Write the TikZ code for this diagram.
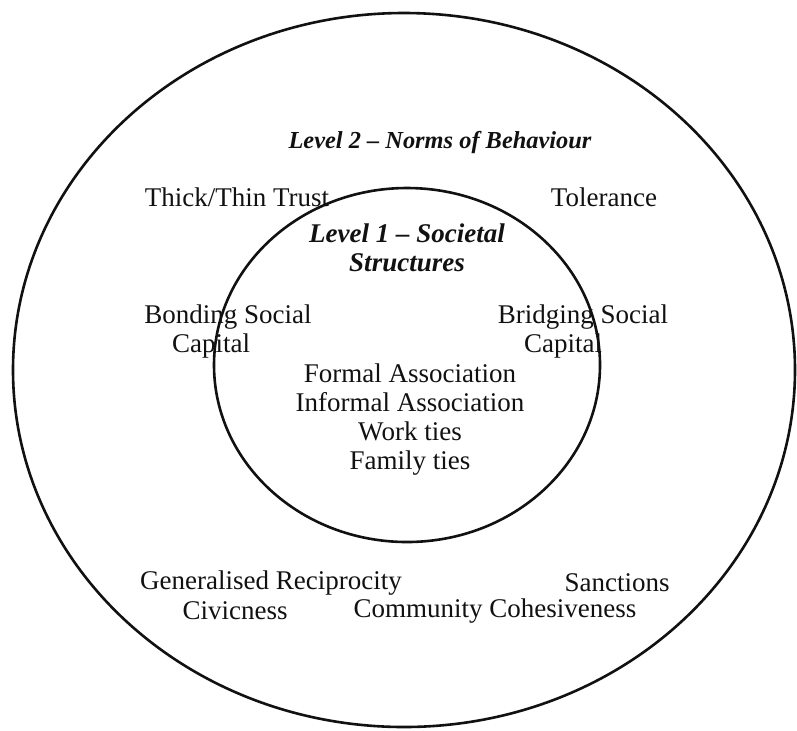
\documentclass[tikz,border=0pt]{standalone}
\usepackage{fontspec}
\setmainfont{Liberation Serif}
\usetikzlibrary{positioning,shapes.geometric}
\definecolor{inkBlack}{HTML}{111111}

\begin{document}
\begin{tikzpicture}[x=0.5pt, y=-0.5pt,
  ring/.style={ellipse, draw=inkBlack, line width=1.3pt, inner sep=0pt},
  item/.style={font=\fontsize{13.5}{14.5}\selectfont, align=center, inner sep=0pt, text=inkBlack},
  heading/.style={item, font=\fontsize{13.5}{14.5}\selectfont\bfseries\itshape}
]
\useasboundingbox (0,0) rectangle (797,730);
% the two levels
\node[ring, minimum width=391pt, minimum height=357pt] (outer) at (404,370) {};
\node[ring, minimum width=193pt, minimum height=177pt] (inner) at (407,365) {};
% level 2
\node[heading, font=\fontsize{12.2}{14}\selectfont\bfseries\itshape] (norms) at (440,142) {Level 2 -- Norms of Behaviour};
\node[item] (trust) at (237,197) {Thick/Thin Trust};
\node[item] (tolerance) at (604,197) {Tolerance};
\node[item] (bonding) at (228,331) {Bonding Social\\Capital\hspace*{17pt}};
\node[item] (bridging) at (583,331) {Bridging Social\\Capital\hspace*{20pt}};
\node[item] (reciprocity) at (271,583) {Generalised Reciprocity};
\node[item] (sanctions) at (617,583) {Sanctions};
\node[item] (civicness) at (235,611) {Civicness};
\node[item] (cohesion) at (495,611) {Community Cohesiveness};
% level 1
\node[heading] (structures) at (407,248) {Level 1 -- Societal\\Structures};
\node[item] (ties) at (410,420) {Formal Association\\Informal Association\\Work ties\\Family ties};
\end{tikzpicture}
\end{document}
